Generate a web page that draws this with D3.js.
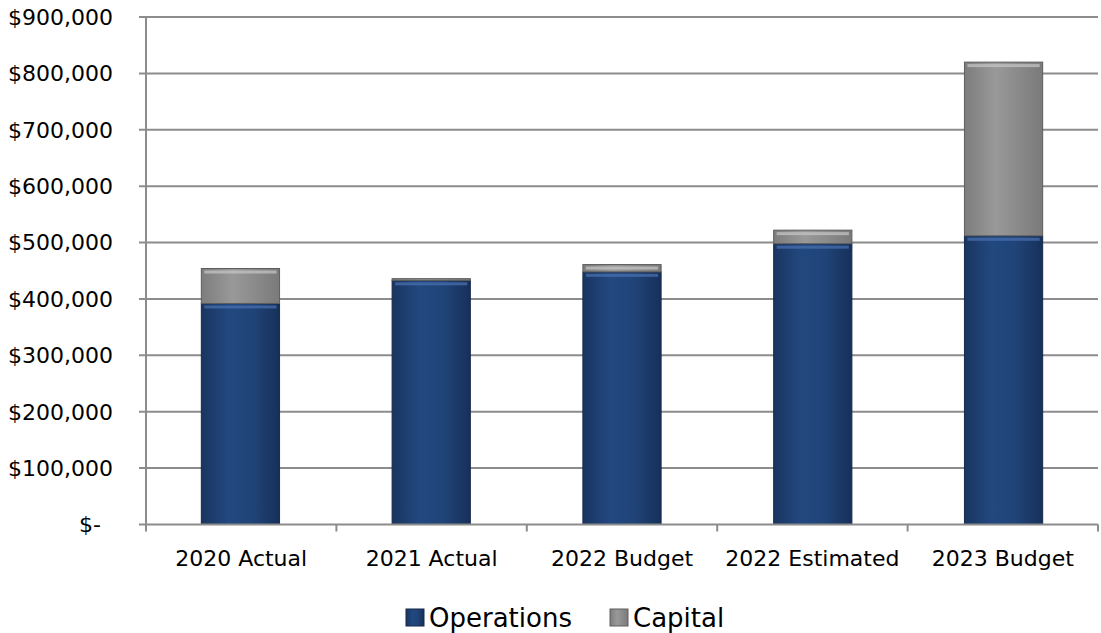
<!DOCTYPE html>
<html>
<head>
<meta charset="utf-8">
<script src="https://cdn.jsdelivr.net/npm/d3@7"></script>
<style>
  body { margin: 0; background: #fff; }
  text { font-family: "DejaVu Sans", sans-serif; fill: #000; }
</style>
</head>
<body>
<div id="chart"></div>
<script>
const categories = ["2020 Actual", "2021 Actual", "2022 Budget", "2022 Estimated", "2023 Budget"];
const operations = [392000, 433000, 448000, 498000, 512000];
const capital = [62000, 3000, 13000, 24000, 308000];
const yTicks = [0, 100000, 200000, 300000, 400000, 500000, 600000, 700000, 800000, 900000];
const seriesNames = ["Operations", "Capital"];

const WIDTH = 1101, HEIGHT = 633;
const MARGIN = { LEFT: 146, RIGHT: 3, TOP: 17, BOTTOM: 109 };

const svg = d3.select("#chart").append("svg")
    .attr("width", WIDTH)
    .attr("height", HEIGHT);

const defs = svg.append("defs");
// horizontal shading on the bars
const opsGrad = defs.append("linearGradient").attr("id", "opsGrad");
opsGrad.append("stop").attr("offset", "0%").attr("stop-color", "#1a3560");
opsGrad.append("stop").attr("offset", "35%").attr("stop-color", "#224880");
opsGrad.append("stop").attr("offset", "65%").attr("stop-color", "#204478");
opsGrad.append("stop").attr("offset", "100%").attr("stop-color", "#17305a");
const capGrad = defs.append("linearGradient").attr("id", "capGrad");
capGrad.append("stop").attr("offset", "0%").attr("stop-color", "#7d7d7d");
capGrad.append("stop").attr("offset", "40%").attr("stop-color", "#999999");
capGrad.append("stop").attr("offset", "100%").attr("stop-color", "#7a7a7a");

const g = svg.append("g");

const x = d3.scaleBand()
    .domain(categories)
    .range([MARGIN.LEFT, WIDTH - MARGIN.RIGHT])
    .paddingInner(0.59)
    .paddingOuter(0.29);

const xOuter = d3.scaleBand()
    .domain(categories)
    .range([MARGIN.LEFT, WIDTH - MARGIN.RIGHT]);

const y = d3.scaleLinear()
    .domain([0, 900000])
    .range([HEIGHT - MARGIN.BOTTOM + 0.5, MARGIN.TOP]);

// grid lines
g.selectAll(".grid")
    .data(yTicks.filter(d => d > 0))
    .enter().append("line")
    .attr("x1", MARGIN.LEFT - 7)
    .attr("x2", WIDTH - MARGIN.RIGHT)
    .attr("y1", d => y(d))
    .attr("y2", d => y(d))
    .attr("stroke", "#8c8c8c")
    .attr("stroke-width", 2);

// y tick labels
const fmt = d3.format(",");
g.selectAll(".ylab")
    .data(yTicks)
    .enter().append("text")
    .attr("x", d => d === 0 ? 79 : 113)
    .attr("y", d => y(d))
    .attr("dy", "0.36em")
    .attr("text-anchor", d => d === 0 ? "start" : "end")
    .attr("font-size", "22px")
    .text(d => d === 0 ? "$-" : "$" + fmt(d));

// stacked bars
const rows = categories.map((c, i) => ({ cat: c, Operations: operations[i], Capital: capital[i] }));
const stack = d3.stack().keys(seriesNames)(rows);
const fills = { Operations: "url(#opsGrad)", Capital: "url(#capGrad)" };
const tops = { Operations: "#4a72b0", Capital: "#c8c8c8" };

stack.forEach(layer => {
    const lg = g.append("g");
    lg.selectAll("rect.bar")
        .data(layer)
        .enter().append("rect")
        .attr("x", d => x(d.data.cat))
        .attr("width", x.bandwidth())
        .attr("y", d => y(d[1]))
        .attr("height", d => y(d[0]) - y(d[1]))
        .attr("fill", fills[layer.key])
        .attr("stroke", layer.key === "Operations" ? "#16294a" : "#5e5e5e")
        .attr("stroke-width", 1);
    // light highlight along the top edge
    lg.selectAll("rect.hl")
        .data(layer.filter(d => y(d[0]) - y(d[1]) > 5))
        .enter().append("rect")
        .attr("x", d => x(d.data.cat) + 3)
        .attr("width", x.bandwidth() - 6)
        .attr("y", d => y(d[1]) + 2)
        .attr("height", 3)
        .attr("fill", tops[layer.key])
        .attr("opacity", 0.7);
});

// x axis line and ticks
const base = y(0);
g.append("line")
    .attr("x1", MARGIN.LEFT - 7)
    .attr("x2", WIDTH - MARGIN.RIGHT)
    .attr("y1", base).attr("y2", base)
    .attr("stroke", "#8c8c8c").attr("stroke-width", 2);
g.append("line")
    .attr("x1", MARGIN.LEFT).attr("x2", MARGIN.LEFT)
    .attr("y1", MARGIN.TOP).attr("y2", base + 7)
    .attr("stroke", "#8c8c8c").attr("stroke-width", 2);
g.selectAll(".xtick")
    .data(categories)
    .enter().append("line")
    .attr("x1", d => xOuter(d) + xOuter.bandwidth())
    .attr("x2", d => xOuter(d) + xOuter.bandwidth())
    .attr("y1", base).attr("y2", base + 7)
    .attr("stroke", "#8c8c8c").attr("stroke-width", 2);

g.selectAll(".xlab")
    .data(categories)
    .enter().append("text")
    .attr("x", d => xOuter(d) + xOuter.bandwidth() / 2)
    .attr("y", 566)
    .attr("text-anchor", "middle")
    .attr("font-size", "22px")
    .text(d => d);

// legend
const legend = svg.append("g");
const legendX = [406, 610];
seriesNames.forEach((s, i) => {
    legend.append("rect")
        .attr("x", legendX[i]).attr("y", 609)
        .attr("width", 18).attr("height", 17)
        .attr("fill", fills[s])
        .attr("stroke", s === "Operations" ? "#16294a" : "#5e5e5e");
    legend.append("text")
        .attr("x", legendX[i] + 23).attr("y", 627)
        .attr("font-size", "26px")
        .text(s);
});
</script>
</body>
</html>
